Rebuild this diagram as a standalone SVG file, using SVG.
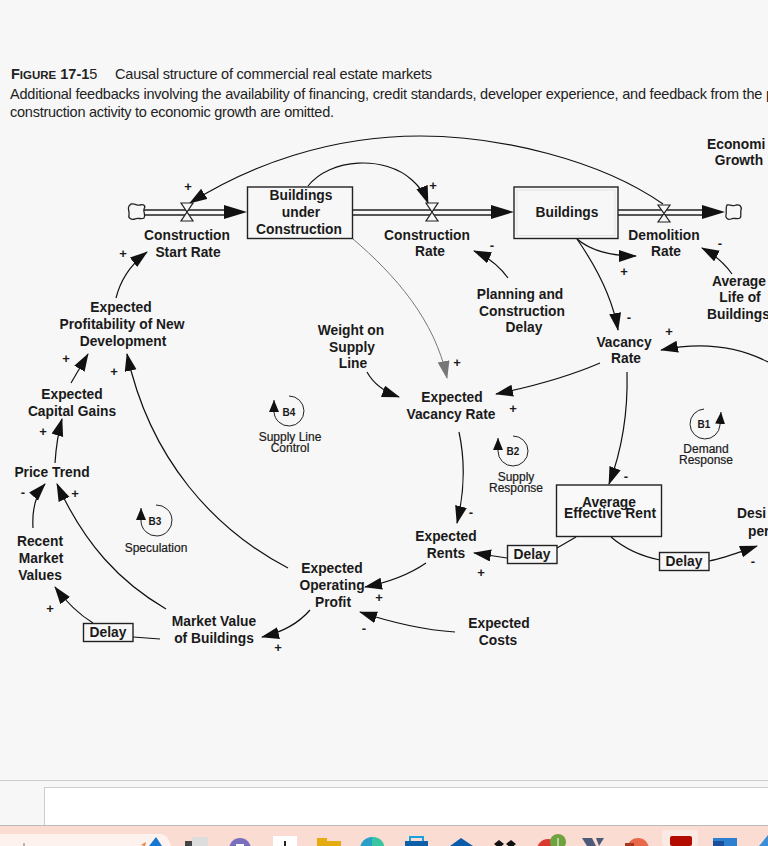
<svg xmlns="http://www.w3.org/2000/svg" width="768" height="846" viewBox="0 0 768 846">
<style>
text{font-family:"Liberation Sans",Arial,sans-serif;fill:#1a1a1a}
.l{font-size:13.800px;font-weight:700;text-anchor:middle}
.ls{font-size:13.800px;font-weight:700}
.h{font-size:14.500px;fill:#222}
.lp{font-size:12px;text-anchor:middle;stroke:#1a1a1a;stroke-width:.2}
.id{font-size:10px;font-weight:700;text-anchor:middle}
.box{fill:none;stroke:#222;stroke-width:1.4}
.pipe{fill:none;stroke:#222;stroke-width:1.3}
.valve{fill:#f7f7f7;stroke:#222;stroke-width:1.2}
.cloud{fill:#f7f7f7;stroke:#222;stroke-width:1.3}
.head{fill:#111}
.c{fill:none;stroke:#111;stroke-width:1.2;marker-end:url(#a)}
.cg{fill:none;stroke:#777;stroke-width:1;marker-end:url(#ag)}
.n{fill:none;stroke:#111;stroke-width:1.2}
.lpa{fill:none;stroke:#222;stroke-width:1;marker-end:url(#al)}
</style>
<defs>
<marker id="a" markerUnits="userSpaceOnUse" markerWidth="20" markerHeight="14" refX="17" refY="6" orient="auto"><path d="M0,0L18,6L0,12Z" fill="#111"/></marker>
<marker id="ag" markerUnits="userSpaceOnUse" markerWidth="20" markerHeight="14" refX="17" refY="6" orient="auto"><path d="M0,0L18,6L0,12Z" fill="#777"/></marker>
<marker id="al" markerUnits="userSpaceOnUse" markerWidth="14" markerHeight="12" refX="12" refY="5" orient="auto"><path d="M0,0L12,5L0,10Z" fill="#111"/></marker>
</defs>
<rect width="768" height="846" fill="#f7f7f7"/>

<g id="header">
<text x="11" y="79" font-size="14.500" font-weight="700" style="fill:#222">F<tspan font-size="11.500">IGURE</tspan> 17-1<tspan font-weight="400">5</tspan></text>
<text class="h" x="115" y="79" textLength="317" lengthAdjust="spacing">Causal structure of commercial real estate markets</text>
<text class="h" x="10" y="99" textLength="764" lengthAdjust="spacing">Additional feedbacks involving the availability of financing, credit standards, developer experience, and feedback from the p</text>
<text class="h" x="10" y="117" textLength="324" lengthAdjust="spacing">construction activity to economic growth are omitted.</text>
</g>

<g id="connectors">
<path class="c" d="M663,204C600,160 500,136 420,136C330,136 250,165 190,203"/>
<path class="c" d="M308,186C330,158 385,155 412,180C420,187 425,195 428,203"/>
<path class="c" d="M116,298C120,282 130,265 147,252"/>
<path class="c" d="M71,383L88,354"/>
<path class="c" d="M288,568C215,530 150,460 127,354"/>
<path class="c" d="M55,463C56,448 58,433 62,419"/>
<path class="c" d="M33,528C32,510 35,495 45,484"/>
<path class="c" d="M166,609C120,582 85,545 57,484"/>
<path class="c" d="M93,623C80,615 67,603 55,587"/>
<path class="n" d="M160,639L133,637"/>
<path class="c" d="M310,610C298,624 283,632 262,637"/>
<path class="c" d="M426,563C410,574 390,582 365,587"/>
<path class="c" d="M455,632C425,630 390,622 360,612"/>
<path class="c" d="M507,558L474,553"/>
<path class="n" d="M576,537L557,548"/>
<path class="n" d="M611,537C625,549 640,556 660,560"/>
<path class="c" d="M709,561C725,558 740,552 757,546"/>
<path class="c" d="M627,372C628,410 622,450 609,484"/>
<path class="c" d="M459,432C465,460 465,490 457,523"/>
<path class="c" d="M600,363C570,376 530,387 496,394"/>
<path class="c" d="M367,372C373,383 385,392 399,397"/>
<path class="cg" d="M353,239C395,275 435,320 447,378"/>
<path class="c" d="M577,239C590,250 610,256 636,256"/>
<path class="c" d="M577,239C595,265 612,295 618,330"/>
<path class="c" d="M508,278C500,267 490,258 474,251"/>
<path class="c" d="M732,274C725,264 715,255 702,248"/>
<path class="c" d="M768,362C735,345 700,342 661,350"/>
</g>

<g id="pipes">
<path class="pipe" d="M144,210H228M144,215H228M352,210H496M352,215H496M618,210H705M618,215H705"/>
<path class="head" d="M224,205L247,212L224,219Z"/>
<path class="head" d="M491,205L514,212L491,219Z"/>
<path class="head" d="M702,205L725,212L702,219Z"/>
</g>

<g id="source-cloud"><path class="cloud" d="M131,204C135,203 137,206 140,205C144,204 146,206 144,209C143,212 146,215 144,218C141,220 138,217 135,219C131,220 128,218 129,215C130,212 127,209 129,206Z"/></g>
<g id="sink-cloud"><path class="cloud" d="M727,205C731,204 733,207 736,205C740,204 742,207 741,210C740,213 742,216 740,218C737,220 734,217 731,219C728,220 725,218 726,215C727,212 725,208 727,205Z"/></g>

<g id="construction-start-valve"><path class="valve" d="M181,203H193L181,221H193Z"/>
<text class="l" x="187" y="240">Construction</text><text class="l" x="188" y="257">Start Rate</text></g>
<g id="construction-rate-valve"><path class="valve" d="M426,203H438L426,221H438Z"/>
<text class="l" x="427" y="240">Construction</text><text class="l" x="430" y="256">Rate</text></g>
<g id="demolition-valve"><path class="valve" d="M658,205H670L658,222H670Z"/>
<text class="l" x="664" y="240">Demolition</text><text class="l" x="666" y="256">Rate</text></g>

<g id="buildings-under-construction"><rect class="box" x="247.500" y="187" width="105" height="51.500"/>
<text class="l" x="301" y="200">Buildings</text><text class="l" x="301" y="217">under</text><text class="l" x="299" y="234">Construction</text></g>
<g id="buildings"><rect class="box" x="514" y="187" width="104" height="51.500"/><rect x="517" y="190" width="98" height="45.500" fill="none" stroke="#e4e4e4"/>
<text class="l" x="567" y="217">Buildings</text></g>
<g id="average-effective-rent"><rect x="556.500" y="485" width="105" height="51.500" fill="#f9f9f9" stroke="#222" stroke-width="1.400"/>
<text class="l" x="609" y="507">Average</text><text class="l" x="610" y="518">Effective Rent</text></g>

<g id="economic-growth"><text class="ls" x="707" y="149">Economi</text><text class="l" x="739" y="165">Growth</text></g>
<g id="average-life"><text class="ls" x="712" y="286">Average</text><text class="l" x="740" y="302">Life of</text><text class="ls" x="707" y="319">Buildings</text></g>
<g id="planning-delay"><text class="l" x="520" y="299">Planning and</text><text class="l" x="522" y="316">Construction</text><text class="l" x="524" y="332">Delay</text></g>
<g id="vacancy-rate"><text class="l" x="624" y="347">Vacancy</text><text class="l" x="626" y="363">Rate</text></g>
<g id="weight-on-supply-line"><text class="l" x="351" y="335">Weight on</text><text class="l" x="352" y="352">Supply</text><text class="l" x="353" y="368">Line</text></g>
<g id="expected-vacancy-rate"><text class="l" x="452" y="402">Expected</text><text class="l" x="451" y="419">Vacancy Rate</text></g>
<g id="expected-profitability"><text class="l" x="121" y="312">Expected</text><text class="l" x="122" y="329">Profitability of New</text><text class="l" x="123" y="346">Development</text></g>
<g id="expected-capital-gains"><text class="l" x="72" y="399">Expected</text><text class="l" x="72" y="416">Capital Gains</text></g>
<g id="price-trend"><text class="l" x="52" y="477">Price Trend</text></g>
<g id="recent-market-values"><text class="l" x="40" y="546">Recent</text><text class="l" x="41" y="563">Market</text><text class="l" x="40" y="580">Values</text></g>
<g id="market-value"><text class="l" x="214" y="626">Market Value</text><text class="l" x="214" y="643">of Buildings</text></g>
<g id="expected-operating-profit"><text class="l" x="332" y="573">Expected</text><text class="l" x="332" y="590">Operating</text><text class="l" x="333" y="607">Profit</text></g>
<g id="expected-rents"><text class="l" x="446" y="541">Expected</text><text class="l" x="446" y="558">Rents</text></g>
<g id="expected-costs"><text class="l" x="499" y="628">Expected</text><text class="l" x="498" y="645">Costs</text></g>
<g id="desired-per"><text class="ls" x="737" y="518">Desi</text><text class="ls" x="748" y="536">per</text></g>

<g id="delay-1"><rect class="box" x="83.500" y="623.500" width="49.500" height="18"/><text class="l" x="108" y="637">Delay</text></g>
<g id="delay-2"><rect class="box" x="507.500" y="545.500" width="49.500" height="18"/><text class="l" x="532" y="559">Delay</text></g>
<g id="delay-3"><rect class="box" x="659.500" y="552.500" width="49.500" height="18"/><text class="l" x="684" y="566">Delay</text></g>

<g id="loop-b1"><path class="lpa" d="M704,409A15,15 0 1 0 720,425L721,412"/><text class="id" x="704" y="428">B1</text><text class="lp" x="706" y="453">Demand</text><text class="lp" x="706" y="464">Response</text></g>
<g id="loop-b2"><path class="lpa" d="M513,436A15,15 0 1 1 498,451L498,438"/><text class="id" x="513" y="455">B2</text><text class="lp" x="516" y="481">Supply</text><text class="lp" x="516" y="492">Response</text></g>
<g id="loop-b3"><path class="lpa" d="M156,505A15.500,15.500 0 1 1 141,521L141,508"/><text class="id" x="155" y="525">B3</text><text class="lp" x="156" y="552">Speculation</text></g>
<g id="loop-b4"><path class="lpa" d="M289,396A15,15 0 1 1 274,412L274,400"/><text class="id" x="289" y="416">B4</text><text class="lp" x="290" y="441">Supply Line</text><text class="lp" x="290" y="452">Control</text></g>

<g id="signs" font-size="13" font-weight="700" text-anchor="middle">
<text x="188" y="191">+</text><text x="433" y="190">+</text><text x="123" y="258">+</text><text x="492" y="250">-</text>
<text x="720" y="248">-</text><text x="624" y="276">+</text><text x="629" y="322">-</text><text x="669" y="336">+</text>
<text x="457" y="367">+</text><text x="513" y="413">+</text><text x="471" y="517">-</text><text x="626" y="481">-</text>
<text x="481" y="577">+</text><text x="753" y="566">-</text><text x="43" y="436">+</text><text x="23" y="497">-</text>
<text x="75" y="498">+</text><text x="50" y="613">+</text><text x="278" y="652">+</text><text x="379" y="602">+</text>
<text x="364" y="633">-</text><text x="66" y="363">+</text><text x="114" y="376">+</text>
</g>

<g id="page-footer">
<path d="M0,780.500H768" stroke="#ccc" stroke-width="1"/>
<rect x="44.500" y="787.500" width="730" height="40" fill="#fff" stroke="#ccc"/>
<rect y="825" width="768" height="21" fill="#fbdcd2"/>
<path d="M0,825.500H768" stroke="#bbb"/>
<path d="M0,834H160C166,834 170,840 171,846H0Z" fill="#fdf2ee"/>
<path d="M24,843V846" stroke="#777"/>
<path d="M156,837L149,846H162Z" fill="#1877d4"/>
<path d="M145,846L146,842L141,845Z" fill="#e87d3e"/>
<rect x="185" y="841" width="10" height="5" fill="#444"/><rect x="192" y="837" width="16" height="9" fill="#ddd"/>
<circle cx="240" cy="849" r="11" fill="#7a6fbe"/><rect x="236" y="844" width="8" height="3" fill="#fff"/>
<rect x="273" y="836" width="24" height="10" fill="#fff"/><path d="M284,846V841H286V846" fill="#222"/>
<path d="M317,838H327V841H341V846H317Z" fill="#e5ac12"/>
<circle cx="372" cy="849" r="12" fill="#2a9fc8"/><path d="M372,837C380,837 384,842 384,846H372Z" fill="#37c6a0"/>
<rect x="405" y="841" width="23" height="5" fill="#0f5ea8"/><path d="M410,841V837H423V841" fill="none" stroke="#19a0e0" stroke-width="2"/>
<path d="M450,846L461,838L473,846Z" fill="#0a5cab"/>
<path d="M499,840L504,844L499,848L494,844ZM511,840L516,844L511,848L506,844Z" fill="#111"/>
<circle cx="548" cy="850" r="11" fill="#d93a30"/><circle cx="558" cy="842" r="8" fill="#6fa33f"/><path d="M558,838V846" stroke="#fff"/>
<path d="M582,838H592L596,846H587ZM596,838H604L599,846Z" fill="#4d5a7a"/>
<circle cx="638" cy="849" r="11" fill="#e8684a"/><rect x="625" y="843" width="9" height="3" fill="#a9381f"/>
<rect x="662" y="830" width="36" height="16" rx="3" fill="#fbe9e3"/><rect x="670" y="836" width="22" height="10" rx="2" fill="#b30b00"/>
<rect x="713" y="838" width="24" height="8" fill="#2f7fd0"/><rect x="713" y="841" width="11" height="5" fill="#1b4f9c"/>
<path d="M768,835L759,846H768Z" fill="#3a8fd8"/>
</g>
</svg>
